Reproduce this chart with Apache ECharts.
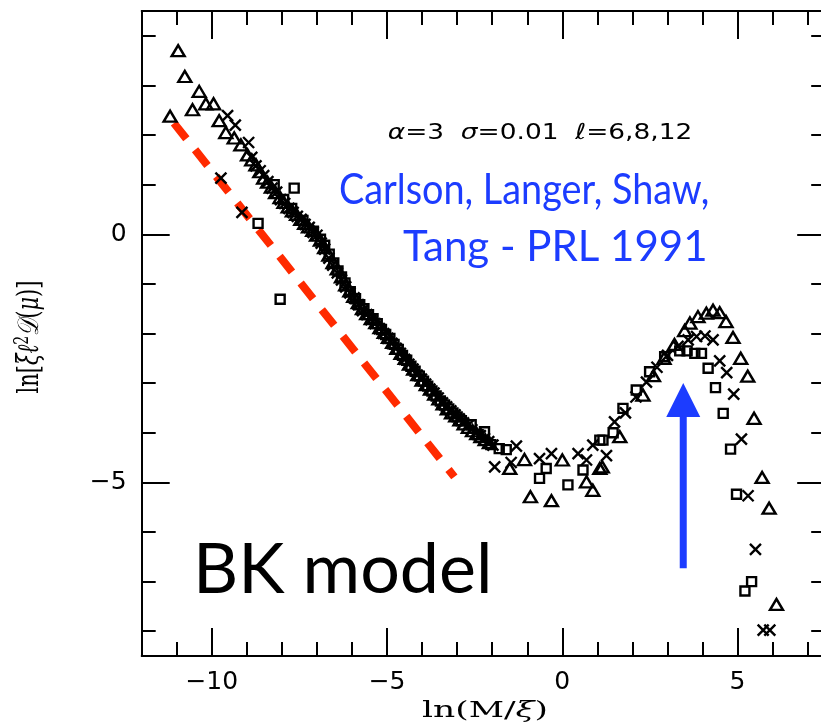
<!DOCTYPE html>
<html>
<head>
<meta charset="utf-8">
<script src="https://cdn.jsdelivr.net/npm/echarts@6/dist/echarts.min.js"></script>
<style>
  html, body { margin: 0; padding: 0; background: #fff; }
  #chart { width: 821px; height: 726px; }
</style>
</head>
<body>
<div id="chart"></div>
<script>
// Scaled distribution ln[ξℓ²D(μ)] against ln(M/ξ), three system sizes.
const triangles = [
  [-11.19, 2.38], [-10.96, 3.70], [-10.77, 3.18], [-10.55, 2.51], [-10.36, 2.88],
  [-10.17, 2.63], [-9.95, 2.63], [-9.79, 2.29], [-9.60, 2.05], [-9.36, 1.94],
  [-9.17, 1.80], [-8.98, 1.60], [-8.86, 1.50], [-8.74, 1.40], [-8.63, 1.26],
  [-8.52, 1.13], [-8.41, 1.05], [-8.30, 0.95], [-8.18, 0.84], [-8.05, 0.74],
  [-7.94, 0.64], [-7.82, 0.55], [-7.70, 0.47], [-7.58, 0.40], [-7.46, 0.30],
  [-7.35, 0.22], [-7.24, 0.15], [-7.12, 0.08], [-7.01, -0.02], [-6.90, -0.12],
  [-6.78, -0.27], [-6.66, -0.42], [-6.54, -0.57], [-6.42, -0.70], [-6.30, -0.86],
  [-6.18, -1.02], [-6.06, -1.14], [-5.95, -1.25], [-5.82, -1.38], [-5.70, -1.50],
  [-5.58, -1.60], [-5.45, -1.70], [-5.32, -1.78], [-5.20, -1.88], [-5.08, -1.98],
  [-4.96, -2.08], [-4.84, -2.18], [-4.72, -2.30], [-4.60, -2.40], [-4.48, -2.50],
  [-4.36, -2.62], [-4.24, -2.72], [-4.12, -2.83], [-4.00, -2.94], [-3.88, -3.03],
  [-3.76, -3.12], [-3.64, -3.22], [-3.52, -3.32], [-3.40, -3.42], [-3.28, -3.52],
  [-3.16, -3.60], [-3.04, -3.66], [-2.92, -3.74], [-2.80, -3.82], [-2.68, -3.89],
  [-2.56, -3.96], [-2.44, -4.02], [-2.32, -4.08], [-2.20, -4.14], [-2.08, -4.20],
  [-1.50, -4.72], [-1.08, -4.54], [-0.91, -5.29], [-0.31, -5.37], [0.00, -4.55],
  [0.69, -4.99], [0.87, -5.16], [1.07, -4.72], [1.14, -4.69], [1.64, -4.08],
  [2.30, -3.24], [2.60, -2.85], [2.90, -2.50], [3.20, -2.22], [3.49, -1.94],
  [3.64, -1.79], [3.87, -1.66], [4.11, -1.59], [4.30, -1.53], [4.49, -1.58],
  [4.67, -1.76], [4.87, -2.08], [5.09, -2.50], [5.29, -2.86], [5.47, -3.71],
  [5.70, -4.90], [5.90, -5.52], [6.11, -7.46]
];
const crosses = [
  [-9.74, 1.13], [-9.55, 2.39], [-9.33, 2.20], [-9.14, 0.44], [-8.95, 1.85],
  [-8.86, 1.55], [-8.74, 1.38], [-8.62, 1.28], [-8.52, 1.18], [-8.40, 1.06],
  [-8.28, 0.93], [-8.15, 0.85], [-8.04, 0.70], [-7.92, 0.62], [-7.80, 0.52],
  [-7.68, 0.44], [-7.56, 0.36], [-7.45, 0.30], [-7.34, 0.20], [-7.22, 0.14],
  [-7.11, 0.04], [-7.00, -0.02], [-6.88, -0.18], [-6.78, -0.30], [-6.66, -0.48],
  [-6.55, -0.62], [-6.42, -0.78], [-6.30, -0.92], [-6.18, -1.06], [-6.06, -1.18],
  [-5.94, -1.28], [-5.82, -1.42], [-5.70, -1.54], [-5.58, -1.62], [-5.46, -1.72],
  [-5.34, -1.80], [-5.22, -1.90], [-5.10, -2.00], [-4.98, -2.10], [-4.86, -2.20],
  [-4.74, -2.30], [-4.62, -2.40], [-4.50, -2.52], [-4.38, -2.62], [-4.26, -2.72],
  [-4.14, -2.84], [-4.02, -2.92], [-3.90, -3.02], [-3.78, -3.12], [-3.66, -3.20],
  [-3.54, -3.30], [-3.42, -3.40], [-3.30, -3.48], [-3.18, -3.56], [-3.06, -3.64],
  [-2.94, -3.72], [-2.82, -3.80], [-2.70, -3.86], [-2.58, -3.94], [-2.46, -4.00],
  [-2.34, -4.06], [-2.22, -4.12], [-2.10, -4.18], [-1.98, -4.25], [-1.31, -4.27],
  [-1.93, -4.69], [-1.46, -4.60], [-0.65, -4.52], [-0.31, -4.42], [0.45, -4.42],
  [0.69, -4.55], [0.87, -4.25], [1.26, -4.46], [1.49, -3.78], [1.80, -3.60],
  [2.10, -3.28], [2.40, -2.98], [2.70, -2.68], [3.00, -2.44], [3.30, -2.26],
  [3.59, -2.13], [3.83, -2.06], [4.07, -2.05], [4.30, -2.13], [4.49, -2.55],
  [4.69, -2.79], [4.89, -3.22], [5.11, -4.13], [5.30, -5.27], [5.51, -6.35],
  [5.73, -7.98], [5.92, -7.98]
];
const squares = [
  [-8.68, 0.22], [-8.05, -1.31], [-7.65, 0.93], [-8.22, 1.00], [-7.95, 0.70],
  [-7.72, 0.52], [-7.40, 0.28], [-7.10, 0.06], [-6.90, -0.10], [-6.78, -0.22],
  [-6.65, -0.40], [-6.52, -0.58], [-6.40, -0.74], [-6.30, -0.86], [-6.20, -0.98],
  [-6.05, -1.16], [-5.90, -1.30], [-5.78, -1.42], [-5.66, -1.50], [-5.53, -1.62],
  [-5.40, -1.70], [-5.28, -1.80], [-5.16, -1.92], [-5.04, -2.02], [-4.92, -2.10],
  [-4.80, -2.22], [-4.68, -2.32], [-4.56, -2.44], [-4.44, -2.54], [-4.32, -2.66],
  [-4.20, -2.76], [-4.08, -2.86], [-3.96, -2.96], [-3.84, -3.06], [-3.72, -3.16],
  [-3.60, -3.26], [-3.48, -3.36], [-3.36, -3.44], [-3.24, -3.52], [-3.12, -3.60],
  [-3.00, -3.68], [-2.88, -3.76], [-2.60, -3.84], [-2.40, -4.04], [-2.22, -3.98],
  [-2.04, -4.24], [-1.80, -4.32], [-1.60, -4.34],
  [-0.65, -4.92], [-0.46, -4.72], [0.16, -5.05], [0.59, -4.75], [1.07, -4.15],
  [1.16, -4.15], [1.45, -4.00], [1.73, -3.51], [2.11, -3.14], [2.49, -2.77],
  [2.92, -2.47], [3.35, -2.35], [3.56, -2.35], [3.78, -2.40], [3.97, -2.40],
  [4.16, -2.70], [4.37, -3.09], [4.59, -3.61], [4.80, -4.33], [4.97, -5.24],
  [5.21, -7.19], [5.40, -7.00]
];
// Power-law guide and the arrow marking the peak
const guideLine = [[-11.08, 2.24], [-3.08, -4.89]];
const arrowShaft = [[3.45, -6.73], [3.45, -3.62]];
const arrowHead = [[3.45, -3.34]];

const xRange = [-12, 7.5];
const yRange = [-8.5, 4.5];
const xMajorTicks = [-10, -5, 0, 5];
const xMinorTicks = [-11, -9, -8, -7, -6, -4, -3, -2, -1, 1, 2, 3, 4, 6, 7];
const yMajorTicks = [-5, 0];
const yMinorTicks = [-8, -7, -6, -4, -3, -2, -1, 1, 2, 3, 4];

const xAxisTitle = 'ln(M/{i|ξ})';
const yAxisTitle = 'ln[{i|ξℓ}{s|2}{i|𝒟}({i|μ})]';
const paramText = '{i|α}=3  {i|σ}=0.01  {i|ℓ}=6,8,12';
const creditLines = ['Carlson, Langer, Shaw,', 'Tang - PRL 1991'];
const modelName = 'BK model';

const BLUE = '#1c3cff';
const RED = '#ff2a00';
const tickFont = 'DejaVu Sans';
const serif = 'DejaVu Serif';

function fmt(v) { return v < 0 ? '\u2212' + Math.abs(v) : String(v); }

function xAxisDef(pos, ticks, len, labels, line) {
  return {
    type: 'value', position: pos, min: xRange[0], max: xRange[1],
    axisLine: { show: line, onZero: false, lineStyle: { color: '#000', width: 2 } },
    axisTick: { show: true, inside: true, length: len, customValues: ticks, lineStyle: { color: '#000', width: 2 } },
    axisLabel: labels ? { show: true, customValues: ticks, formatter: fmt, margin: 14,
      fontFamily: tickFont, fontSize: 25, color: '#000' } : { show: false },
    splitLine: { show: false }
  };
}
function yAxisDef(pos, ticks, len, labels, line) {
  return {
    type: 'value', position: pos, min: yRange[0], max: yRange[1],
    axisLine: { show: line, onZero: false, lineStyle: { color: '#000', width: 2 } },
    axisTick: { show: true, inside: true, length: len, customValues: ticks, lineStyle: { color: '#000', width: 2 } },
    axisLabel: labels ? { show: true, customValues: ticks, formatter: fmt, margin: 15,
      fontFamily: tickFont, fontSize: 25, color: '#000' } : { show: false },
    splitLine: { show: false }
  };
}

const hollow = { color: 'transparent', borderColor: '#000', borderWidth: 2.4, opacity: 1 };

const chart = echarts.init(document.getElementById('chart'), null, { renderer: 'canvas' });
chart.setOption({
  animation: false,
  backgroundColor: '#fff',
  grid: { left: 141.7, top: 11, width: 683.5, height: 645, containLabel: false, outerBoundsMode: 'none' },
  xAxis: [
    xAxisDef('bottom', xMajorTicks, 28, true, true),
    xAxisDef('bottom', xMinorTicks, 14, false, false),
    xAxisDef('top', xMajorTicks, 28, false, true),
    xAxisDef('top', xMinorTicks, 14, false, false)
  ],
  yAxis: [
    yAxisDef('left', yMajorTicks, 28, true, true),
    yAxisDef('left', yMinorTicks, 14, false, false),
    yAxisDef('right', yMajorTicks, 28, false, false),
    yAxisDef('right', yMinorTicks, 14, false, false)
  ],
  series: [
    {
      type: 'line', data: guideLine, symbol: 'none', silent: true,
      lineStyle: { color: RED, width: 8, type: [20, 14], cap: 'butt' }, z: 2
    },
    {
      type: 'scatter', data: triangles, symbol: 'triangle', symbolSize: [13, 11],
      itemStyle: hollow, z: 3
    },
    {
      type: 'scatter', data: crosses, symbol: 'path://M0,0L10,10M10,0L0,10', symbolSize: 11,
      itemStyle: hollow, z: 3
    },
    {
      type: 'scatter', data: squares, symbol: 'rect', symbolSize: 9,
      itemStyle: hollow, z: 3
    },
    {
      type: 'line', data: arrowShaft, symbol: 'none', silent: true,
      lineStyle: { color: BLUE, width: 7, cap: 'butt' }, z: 4
    },
    {
      type: 'scatter', data: arrowHead, symbol: 'triangle', symbolSize: [34, 34], silent: true,
      itemStyle: { color: BLUE, opacity: 1 }, z: 4
    }
  ],
  graphic: [
    {
      type: 'text', x: 30, y: 337, rotation: Math.PI / 2, scaleY: 1.4,
      style: {
        text: yAxisTitle, fontFamily: serif, fontSize: 21, fill: '#000',
        align: 'center', verticalAlign: 'middle',
        rich: {
          i: { fontFamily: serif, fontStyle: 'italic', fontSize: 21 },
          s: { fontFamily: serif, fontSize: 14, verticalAlign: 'top', padding: [0, 0, 10, 0] }
        }
      }
    },
    {
      type: 'text', x: 485, y: 711, scaleX: 1.5,
      style: {
        text: xAxisTitle, fontFamily: serif, fontSize: 23, fill: '#000',
        align: 'center', verticalAlign: 'middle',
        rich: { i: { fontFamily: serif, fontStyle: 'italic', fontSize: 23 } }
      }
    },
    {
      type: 'text', x: 540, y: 133, scaleX: 1.2,
      style: {
        text: paramText, fontFamily: tickFont, fontSize: 22, fill: '#000',
        align: 'center', verticalAlign: 'middle',
        rich: { i: { fontFamily: tickFont, fontStyle: 'italic', fontSize: 22 } }
      }
    },
    {
      type: 'text', x: 339, y: 190, scaleX: 0.9,
      style: { text: creditLines[0], fontFamily: 'Lato', fontSize: 42, fill: BLUE,
        align: 'left', verticalAlign: 'middle' }
    },
    {
      type: 'text', x: 403, y: 247,
      style: { text: creditLines[1], fontFamily: 'Lato', fontSize: 42, fill: BLUE,
        align: 'left', verticalAlign: 'middle' }
    },
    {
      type: 'text', x: 193, y: 570,
      style: { text: modelName, fontFamily: 'Lato', fontSize: 70, fill: '#000',
        align: 'left', verticalAlign: 'middle' }
    }
  ]
});
</script>
</body>
</html>
